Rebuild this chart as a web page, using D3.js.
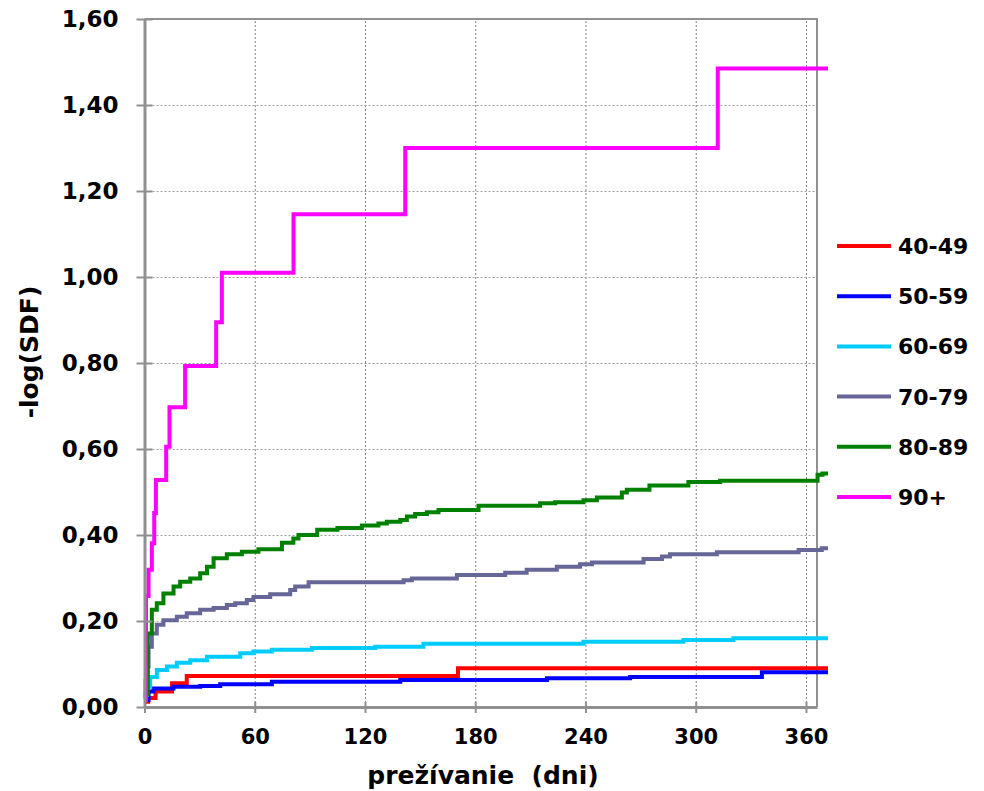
<!DOCTYPE html>
<html><head><meta charset="utf-8">
<script src="https://cdn.jsdelivr.net/npm/d3@7"></script>
<style>body{margin:0;background:#fff}svg{display:block}text{font-family:"DejaVu Sans",Verdana,sans-serif;font-weight:bold;fill:#000}</style>
</head><body>
<svg id="c" width="984" height="791"></svg>
<script>
// ---- data (day, -log(SDF)) step points ----
const seriesNames = ["40-49","50-59","60-69","70-79","80-89","90+"];
const seriesColors = ["#FF0000","#0000FF","#00CCFF","#666699","#008000","#FF00FF"];
const s4049 = [[0,0.012],[2,0.021],[6,0.036],[15,0.055],[23,0.072],[170.6,0.090],[372,0.090]];
const s5059 = [[0,0.016],[2.2,0.036],[4.9,0.043],[15.8,0.047],[30.3,0.049],[41.2,0.053],[69.3,0.059],[139.2,0.063],[219,0.067],[264.3,0.070],[336,0.081],[372,0.081]];
const s6069 = [[0,0.020],[0.4,0.028],[1.3,0.047],[3.1,0.070],[6.7,0.086],[12.2,0.094],[17.6,0.103],[24.9,0.109],[34,0.117],[52.1,0.125],[59.3,0.129],[69.3,0.133],[91.1,0.137],[125.6,0.140],[151.8,0.147],[238.9,0.152],[293.3,0.156],[320.5,0.160],[372,0.160]];
const s7079 = [[0,0.030],[0.6,0.060],[1.3,0.094],[2.2,0.140],[4,0.171],[6.7,0.191],[10.3,0.202],[17.6,0.210],[23,0.218],[30.3,0.226],[37.6,0.230],[44.8,0.237],[49.4,0.241],[55.7,0.249],[59.3,0.256],[68.4,0.262],[79.3,0.272],[82,0.280],[89.3,0.290],[141,0.295],[145.5,0.299],[170,0.307],[196.3,0.312],[208,0.319],[224.4,0.326],[237,0.332],[243.5,0.336],[271.6,0.344],[281.6,0.350],[286,0.355],[311.5,0.360],[356,0.365],[368.6,0.369],[372,0.369]];
const s8089 = [[0,0.030],[1.8,0.171],[4,0.226],[6.7,0.241],[10.3,0.264],[15.8,0.280],[19.4,0.291],[24.9,0.299],[30.3,0.311],[34,0.326],[37.6,0.346],[44.8,0.355],[53,0.361],[62,0.367],[74.8,0.382],[81,0.392],[83.8,0.400],[94,0.412],[105,0.416],[118.3,0.422],[127.3,0.427],[131.9,0.431],[139.2,0.435],[142.8,0.443],[147.3,0.449],[153.7,0.453],[160,0.458],[181.8,0.468],[215.3,0.474],[223.5,0.476],[238.9,0.481],[246.2,0.487],[259.8,0.499],[262.5,0.505],[274.8,0.515],[296,0.523],[313.3,0.526],[366.3,0.540],[369,0.543],[372,0.543]];
const s90 = [[0,0.016],[0.8,0.258],[2.2,0.319],[4,0.381],[5.3,0.451],[6.2,0.528],[11.8,0.605],[13.6,0.697],[22.1,0.793],[39,0.895],[42.1,1.010],[81.1,1.146],[141.9,1.300],[312,1.485],[372,1.485]];
const seriesData = [s4049,s5059,s6069,s7079,s8089,s90];
const xTicks = [0,60,120,180,240,300,360];
const yTicks = [0,0.2,0.4,0.6,0.8,1.0,1.2,1.4,1.6];
const xTitle = "prežívanie  (dni)";
const yTitle = "-log(SDF)";

const svg = d3.select("#c");
const L = 144.5, R = 817, T = 19, B = 707;
const x = d3.scaleLinear().domain([0,366]).range([L,R]);
const y = d3.scaleLinear().domain([0,1.6]).range([B,T]);
const fmt = v => d3.format(".2f")(v).replace(".",",");

// gridlines
const gx = svg.append("g").attr("transform",`translate(0,${B})`)
  .call(d3.axisBottom(x).tickValues(xTicks.slice(1)).tickSize(-(B-T)).tickFormat(""));
gx.select(".domain").remove();
gx.selectAll("line").attr("stroke","#808080").attr("stroke-width",1).attr("stroke-dasharray","2,2");
const gy = svg.append("g").attr("transform",`translate(${L},0)`)
  .call(d3.axisLeft(y).tickValues(yTicks.slice(1,-1)).tickSize(-(R-L)).tickFormat(""));
gy.select(".domain").remove();
gy.selectAll("line").attr("stroke","#a0a0a0").attr("stroke-width",1).attr("stroke-dasharray","2,2");

// plot border (top/right)
svg.append("path").attr("d",`M${L},${T}H${R}V${B}`).attr("fill","none").attr("stroke","#909090").attr("stroke-width",2);

// series
const line = d3.line().x(d=>x(d[0])).y(d=>y(d[1])).curve(d3.curveStepAfter);
seriesData.forEach((s,i)=>{
  svg.append("path").datum(s).attr("d",line).attr("fill","none")
    .attr("stroke",seriesColors[i]).attr("stroke-width",4).attr("stroke-linejoin","miter");
});

// axes
const ax = svg.append("g").attr("transform",`translate(0,${B})`)
  .call(d3.axisBottom(x).tickValues(xTicks).tickSizeInner(6).tickSizeOuter(0).tickPadding(16).tickFormat(d3.format("d")));
ax.select(".domain").attr("stroke","#909090").attr("stroke-width",3);
ax.selectAll(".tick line").attr("stroke","#909090").attr("stroke-width",2).attr("y1",-5);
ax.selectAll("text").attr("font-size",21).style("font-family",'"DejaVu Sans",Verdana,sans-serif').style("font-weight","bold").attr("fill","#000");
const ay = svg.append("g").attr("transform",`translate(${L},0)`)
  .call(d3.axisLeft(y).tickValues(yTicks).tickSizeInner(8).tickSizeOuter(0).tickPadding(18).tickFormat(fmt));
ay.select(".domain").attr("stroke","#909090").attr("stroke-width",3);
ay.selectAll(".tick line").attr("stroke","#909090").attr("stroke-width",2).attr("x1",8);
ay.selectAll("text").attr("font-size",23).style("font-family",'"DejaVu Sans",Verdana,sans-serif').style("font-weight","bold").attr("fill","#000");
ax.select(".domain").raise();

// titles
svg.append("text").attr("x",483).attr("y",784).attr("text-anchor","middle").attr("font-size",25)
  .style("white-space","pre").attr("xml:space","preserve").text(xTitle);
svg.append("text").attr("transform",`translate(38,352) rotate(-90)`).attr("text-anchor","middle").attr("font-size",25).text(yTitle);

// legend
const lg = svg.append("g");
seriesNames.forEach((n,i)=>{
  const yy = 246 + i*50.2;
  lg.append("line").attr("x1",837).attr("x2",891).attr("y1",yy).attr("y2",yy).attr("stroke",seriesColors[i]).attr("stroke-width",4);
  lg.append("text").attr("x",898).attr("y",yy+8).attr("font-size",22).text(n);
});
</script>
</body></html>
